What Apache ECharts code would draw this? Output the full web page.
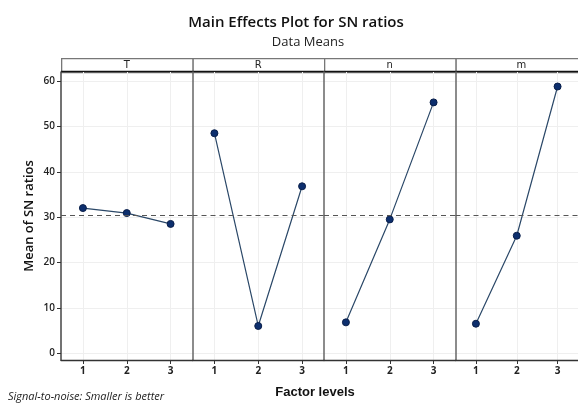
<!DOCTYPE html>
<html>
<head>
	<meta charset="utf-8">
	<title>Main Effects Plot for SN ratios</title>
	<script src="https://cdn.jsdelivr.net/npm/echarts@6/dist/echarts.min.js"></script>
	<style>
		html, body { margin: 0; padding: 0; background: #fff; }
		#main { width: 578px; height: 403px; }
	</style>
</head>
<body>
	<div id="main"></div>
	<script type="text/javascript">
		// 数据
		var factors = ['T', 'R', 'n', 'm'];
		var levels = [1, 2, 3];
		var valT = [32.0, 30.9, 28.5];
		var valR = [48.5, 6.0, 36.8];
		var valN = [6.8, 29.5, 55.3];
		var valM = [6.5, 25.9, 58.8];
		var yTicks = [0, 10, 20, 30, 40, 50, 60];
		var meanLine = 30.4;

		var allVals = [valT, valR, valN, valM];
		var panelLeft = 61, panelW = 131.5, panelTop = 72, panelH = 288;

		var grids = [], xAxes = [], yAxes = [], series = [], graphics = [];
		for (var i = 0; i < 4; i++) {
			var left = panelLeft + i * panelW;
			grids.push({ left: left, top: panelTop, width: panelW, height: panelH, containLabel: false });
			xAxes.push({
				type: 'value', gridIndex: i, min: 0.5, max: 3.5,
				axisLine: { show: true, onZero: false, lineStyle: { color: '#333', width: 1.3 } },
				axisTick: { show: true, customValues: levels, length: 4, lineStyle: { color: '#333' } },
				axisLabel: { customValues: levels, color: '#222', fontSize: 10, fontWeight: 'bold', fontFamily: 'Open Sans', margin: 6 },
				splitLine: { show: true, lineStyle: { color: '#efefef' } }
			});
			yAxes.push({
				type: 'value', gridIndex: i, min: -1.5, max: 62,
				name: i === 0 ? 'Mean of SN ratios' : '',
				nameLocation: 'middle', nameGap: 25,
				nameTextStyle: { fontSize: 13, fontFamily: 'Open Sans', color: '#111', fontWeight: 600 },
				axisLine: { show: true, lineStyle: { color: i === 0 ? '#444' : '#666', width: 1.5 } },
				axisTick: { show: i === 0, customValues: yTicks, length: 4, lineStyle: { color: '#333' } },
				axisLabel: { show: i === 0, customValues: yTicks, color: '#222', fontSize: 10, fontWeight: 600, fontFamily: 'Open Sans', margin: 6 },
				splitLine: { show: true, lineStyle: { color: '#efefef' } }
			});
			var pts = [];
			for (var j = 0; j < levels.length; j++) pts.push([levels[j], allVals[i][j]]);
			series.push({
				type: 'line', xAxisIndex: i, yAxisIndex: i, data: pts,
				symbol: 'circle', symbolSize: 7,
				lineStyle: { color: '#2b4868', width: 1.2 },
				itemStyle: { color: '#0d2f6e', borderColor: '#0a1f4a', borderWidth: 1 },
				markLine: {
					silent: true, symbol: 'none', label: { show: false },
					lineStyle: { color: '#555', type: [5, 4], width: 1 },
					data: [{ yAxis: meanLine }]
				}
			});
			// 标题条
			graphics.push({
				type: 'rect', left: left, top: 58,
				shape: { width: panelW, height: 14 },
				style: { fill: '#fff', stroke: '#777', lineWidth: 1.3 }
			});
			graphics.push({
				type: 'text', x: left + panelW / 2, y: 65,
				style: { text: factors[i], fill: '#222', font: '10px "DejaVu Sans"', align: 'center', verticalAlign: 'middle' }
			});
		}
		graphics.push({
			type: 'line', shape: { x1: panelLeft, y1: 71.5, x2: 590, y2: 71.5 },
			style: { stroke: '#111', lineWidth: 1.5 }
		});

		var myChart = echarts.init(document.getElementById('main'));
		var option = {
			animation: false,
			backgroundColor: '#fff',
			title: [
				{ text: 'Main Effects Plot for SN ratios', left: 291, top: 10, textAlign: 'center',
					textStyle: { fontSize: 15, fontWeight: 600, fontFamily: 'Open Sans', color: '#111' } },
				{ text: 'Data Means', left: 303, top: 31, textAlign: 'center',
					textStyle: { fontSize: 13, fontWeight: 'normal', fontFamily: 'Open Sans', color: '#222' } },
				{ text: 'Factor levels', left: 310, top: 381, textAlign: 'center',
					textStyle: { fontSize: 13, fontWeight: 'bold', fontFamily: 'Liberation Sans', color: '#111' } },
				{ text: 'Signal-to-noise: Smaller is better', left: 3, top: 386,
					textStyle: { fontSize: 11, fontWeight: 'normal', fontStyle: 'italic', fontFamily: 'Open Sans', color: '#222' } }
			],
			grid: grids,
			xAxis: xAxes,
			yAxis: yAxes,
			series: series,
			graphic: graphics
		};
		myChart.setOption(option);
	</script>
</body>
</html>
